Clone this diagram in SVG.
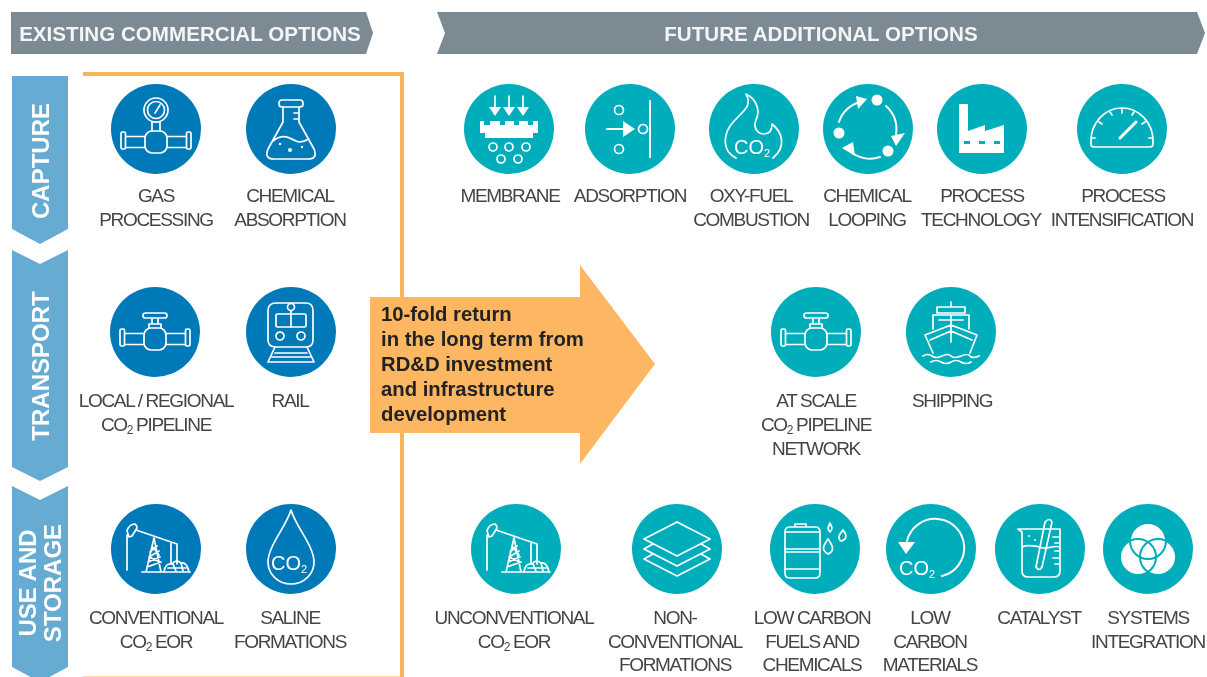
<svg xmlns="http://www.w3.org/2000/svg" width="1207" height="677" viewBox="0 0 1207 677">
<style>
.l{font:19px "Liberation Sans",Arial,sans-serif;letter-spacing:-1.32px;fill:#454545;text-anchor:middle}
.s{font-size:12px}
.h{font:bold 20.6px "Liberation Sans",Arial,sans-serif;fill:#f4f5f6;text-anchor:middle}
.v{font:bold 24px "Liberation Sans",Arial,sans-serif;fill:#fff;text-anchor:middle}
.a{font:bold 20.3px "Liberation Sans",Arial,sans-serif;fill:#222}
.b{fill:#0179b8}.t{fill:#02adba}
.i{fill:none;stroke:#fff;stroke-width:1.7;stroke-linecap:round;stroke-linejoin:round}
.f{fill:#fff;stroke:none}
.c{font:20px "Liberation Sans",Arial,sans-serif;fill:#fff;stroke:none;text-anchor:middle}
.c2{font-size:11px}
</style>
<defs>
<filter id="soft" x="0" y="0" width="100%" height="100%" filterUnits="objectBoundingBox"><feGaussianBlur stdDeviation="0.45"/></filter>
<g id="pipe"><rect x="-35" y="-3" width="4.5" height="17" rx="1.5"/><rect x="30.5" y="-3" width="4.5" height="17" rx="1.5"/><path d="M-30 1.5H-11M-30 12.5H-11M11 1.5H30M11 12.5H30"/><rect x="-11" y="-4" width="22" height="22" rx="7"/></g>
<g id="valve" class="i"><use href="#pipe"/><path d="M-6 -4V-8H6V-4M-3 -8V-13M3 -8V-13"/><rect x="-12" y="-19" width="24" height="5" rx="2.5"/></g>
<g id="gauge-valve" class="i"><use href="#pipe" y="6"/><circle cx="0" cy="-19" r="12"/><circle cx="0" cy="-19" r="8.5"/><path d="M-1 -16L4 -24M-4 -7H4V2M-4 -7V2"/></g>
<g id="flask" class="i"><rect x="-12" y="-29" width="24" height="7" rx="3"/><path d="M-8 -22V-7L-23 20Q-27 30 -17 30H17Q27 30 23 20L8 -7V-22M-18 12C-8 4 -2 9 5 12C11 15 15 11 18 10M3 -16H8M3 -10H8"/><circle class="f" cx="-1" cy="21" r="2"/><circle class="f" cx="-11" cy="15" r="1.2"/><circle class="f" cx="11" cy="18" r="1.2"/></g>
<g id="train" class="i"><path d="M-23 -21Q-23 -29 -15 -29H15Q22 -29 22 -21V8Q22 15 15 15H-15Q-23 15 -23 8Z"/><rect x="-15" y="-18" width="30" height="13" rx="1.5"/><path d="M0 -18V-5M0 -21V-18"/><circle cx="0" cy="-25" r="3.5"/><circle cx="-11" cy="4" r="4"/><circle cx="10" cy="4" r="4"/><path d="M-16 21H16M-19 25H19M-23 30H23M-16 15L-23 30M16 15L23 30"/></g>
<g id="pump" class="i"><path d="M-29 21V-14M-27 -12L-29 -18Q-27 -25 -21 -25Q-19 -24 -19 -21L-24 -13ZM-20 -19L21 -5M21 -5V15M15 -7V15M-2 -11L-10 23M-2 -11L5 23M-7 8L3 2M-8 13L4 8M-9 18L5 13M-6 3L1 -3M-4 -3L3 6M-7 8L4 13M-14 23H34"/><path d="M8 23Q9 14 16 15Q20 10 25 14Q31 13 33 23M12 19H30M17 15L20 22M25 14L27 22"/></g>
<g id="drop" class="i"><path d="M0 -39C-5 -22 -23 -3 -23 13A23 22 0 0 0 23 13C23 -3 5 -22 0 -39Z"/><text class="c" x="-2" y="21">CO<tspan class="c2" dy="3">2</tspan></text></g>
<g id="membrane" class="i"><path d="M-14 -33V-20M0 -33V-20M14 -33V-20"/><path class="f" d="M-20 -22H-8L-14 -13ZM-6 -22H6L0 -13ZM8 -22H20L14 -13Z"/><path class="f" d="M-29 -8H-25V-4H-19V-8H-9V-4H-4V-8H5V-4H10V-8H19V-4H24V-8H29V4H24V9H-24V4H-29Z"/><path stroke="#02adba" stroke-width="0" fill="none" d="M0 0"/><circle cx="-16" cy="18" r="4"/><circle cx="0" cy="18" r="4"/><circle cx="17" cy="18" r="4"/><circle cx="-8" cy="30" r="4"/><circle cx="9" cy="30" r="4"/></g>
<g id="adsorb" class="i"><path d="M20 -28V28M-23 0H-5" stroke-width="2"/><path class="f" d="M-7 -8L5 0L-7 8Z"/><circle cx="-11" cy="-19" r="4.5"/><circle cx="-11" cy="20" r="4.5"/><circle cx="13" cy="0" r="4.5"/></g>
<g id="flame" class="i"><path d="M-18 29C-32 22 -32 5 -20 -8C-8 -20 -2 -24 -8 -35C4 -29 6 -17 2 -9C-1 -2 3 5 10 5C17 5 18 -1 18 -5C28 3 33 17 19 29"/><text class="c" x="-2" y="25">CO<tspan class="c2" dy="3">2</tspan></text></g>
<g id="loop" class="i"><g stroke-width="2"><path d="M-29 -7A30 30 0 0 1 -8 -27"/><path d="M18 -23A30 30 0 0 1 28 5"/><path d="M12 28A30 30 0 0 1 -18 22"/></g><path class="f" d="M-12 -33L-1 -30L-10 -20ZM23 7L37 4L28 17ZM-15 13L-13 27L-26 19Z"/><circle class="f" cx="9" cy="-29" r="5.5"/><circle class="f" cx="-29" cy="4" r="5.5"/><circle class="f" cx="20" cy="22" r="5.5"/></g>
<g id="factory"><path class="f" d="M-23 -25H-14V2L3 -4V2L22 -4V24H-23Z"/><path fill="#02adba" d="M-18 12H-12V15H-18ZM-3 12H3V15H-3ZM12 12H18V15H12Z"/></g>
<g id="speed" class="i"><path d="M-31 12A31 33 0 0 1 31 12V15Q31 18 28 18H-28Q-31 18 -31 15Z"/><path d="M-27 9H-31M27 9H31M-23 -7L-20 -5M23 -7L20 -5M-12 -17L-10 -14M12 -17L10 -14M0 -20V-16"/><path d="M-2 9L14 -7" stroke-width="3"/></g>
<g id="ship" class="i"><path d="M0 -30V-25M-14 -19V-25H14V-19M-14 -19H14M-18 -3V-17H18V-3M-12 -12H12M0 -17V-4M0 -7V10M-26 3L0 -7L26 3L19 21M-26 3L-18 21M-21 8L0 -1L21 8M-28 24Q-23 21 -19 24T-9 24T0 24T10 24T19 24T28 24M-20 30Q-15 27 -10 30T0 30T10 30T20 30"/></g>
<g id="layers" class="i"><path d="M0 -27L33 -10L0 7L-33 -10Z"/><path d="M-24 -5L-33 0L0 17L33 0L24 -5"/><path d="M-24 5L-33 10L0 27L33 10L24 5"/></g>
<g id="barrel" class="i"><path d="M-25 -22Q-30 -22 -30 -17V24Q-30 29 -25 29H0Q5 29 5 24V-17Q5 -22 0 -22ZM-30 -17H5M-30 0H5M-30 3H5M-30 20H5M-20 -25H-9V-22H-20Z"/><path d="M15 -26C13 -22 12 -20 15 -17C18 -20 17 -22 15 -26ZM28 -19C24 -14 22 -11 26 -8C31 -9 33 -13 28 -19ZM13 -10C8 -3 6 1 13 5C20 2 18 -3 13 -10Z"/></g>
<g id="co2loop" class="i"><path d="M11 27A29 29 0 1 0 -24 -8" stroke-width="2"/><path class="f" d="M-33 -7H-16L-25 5Z"/><text class="c" x="-14" y="26">CO<tspan class="c2" dy="3">2</tspan></text></g>
<g id="beaker" class="i"><path d="M-22 -20H20V22Q20 28 14 28H-12Q-18 28 -18 22V-17ZM-18 -2C-12 -5 -4 -3 3 -1C8 0 14 -4 20 -2M13 -12H20M15 -6H20M15 2H20M13 9H20M15 15H20"/><path d="M5 -27Q10 -32 12 -27L2 18Q-1 23 -4 18Z"/><circle class="f" cx="-11" cy="-13" r="1"/><circle class="f" cx="-5" cy="-9" r="1"/></g>
<g id="venn"><g fill="#fff"><circle cx="0" cy="-8" r="18"/><circle cx="-10" cy="8" r="18"/><circle cx="10" cy="8" r="18"/></g><g fill="none" stroke="#02adba" stroke-width="2"><circle cx="0" cy="-8" r="18"/><circle cx="-10" cy="8" r="18"/><circle cx="10" cy="8" r="18"/></g></g>
</defs>

<rect x="0" y="0" width="1207" height="677" fill="#fff"/>
<g id="diagram" filter="url(#soft)">
<rect x="0" y="0" width="1207" height="677" fill="#fff"/>
<g id="header-existing"><polygon points="11,12 366,12 373,33 366,54 11,54" fill="#7b8a93"/><text class="h" x="190" y="41">EXISTING COMMERCIAL OPTIONS</text></g>
<g id="header-future"><polygon points="437,12 1197,12 1205,33 1197,54 437,54 445,33" fill="#7b8a93"/><text class="h" x="821" y="41">FUTURE ADDITIONAL OPTIONS</text></g>

<g id="band-capture"><polygon points="12,76 68,76 68,229 40,244 12,229" fill="#66abd1"/><text class="v" transform="translate(49 161) rotate(-90)">CAPTURE</text></g>
<g id="band-transport"><polygon points="12,250 40,264 68,250 68,467 40,481 12,467" fill="#66abd1"/><text class="v" transform="translate(49 366) rotate(-90)">TRANSPORT</text></g>
<g id="band-use"><polygon points="12,486 40,500 68,486 68,667 40,682 12,667" fill="#66abd1"/><text class="v" transform="translate(36 583) rotate(-90)">USE AND</text><text class="v" transform="translate(61 583) rotate(-90)">STORAGE</text></g>

<path id="frame" d="M83 74H402V678.5H83" fill="none" stroke="#fbb45c" stroke-width="4"/>

<g id="arrow"><polygon points="370,297 580,297 580,265 655,364 580,464 580,433 370,433" fill="#fdb762"/>
<text class="a" x="381" y="321">10-fold return</text><text class="a" x="381" y="346">in the long term from</text><text class="a" x="381" y="371">RD&amp;D investment</text><text class="a" x="381" y="396">and infrastructure</text><text class="a" x="381" y="421">development</text></g>

<g id="gas-processing"><circle class="b" cx="156" cy="129" r="45"/><use href="#gauge-valve" x="156" y="129"/><text class="l" x="156" y="202">GAS</text><text class="l" x="156" y="226">PROCESSING</text></g>
<g id="chemical-absorption"><circle class="b" cx="291" cy="129" r="45"/><use href="#flask" x="291" y="129"/><text class="l" x="290" y="202">CHEMICAL</text><text class="l" x="290" y="226">ABSORPTION</text></g>
<g id="local-pipeline"><circle class="b" cx="155" cy="332" r="45"/><use href="#valve" x="155" y="332"/><text class="l" x="156" y="407">LOCAL / REGIONAL</text><text class="l" x="156" y="431">CO<tspan class="s" dy="3">2</tspan><tspan dy="-3"> PIPELINE</tspan></text></g>
<g id="rail"><circle class="b" cx="291" cy="332" r="45"/><use href="#train" x="291" y="332"/><text class="l" x="290" y="407">RAIL</text></g>
<g id="conventional-eor"><circle class="b" cx="156" cy="549" r="45"/><use href="#pump" x="156" y="549"/><text class="l" x="156" y="624">CONVENTIONAL</text><text class="l" x="156" y="648">CO<tspan class="s" dy="3">2</tspan><tspan dy="-3"> EOR</tspan></text></g>
<g id="saline"><circle class="b" cx="291" cy="549" r="45"/><use href="#drop" x="291" y="549"/><text class="l" x="290" y="624">SALINE</text><text class="l" x="290" y="648">FORMATIONS</text></g>

<g id="membrane-node"><circle class="t" cx="509" cy="129" r="45"/><use href="#membrane" x="509" y="129"/><text class="l" x="510" y="202">MEMBRANE</text></g>
<g id="adsorption"><circle class="t" cx="630" cy="129" r="45"/><use href="#adsorb" x="630" y="129"/><text class="l" x="630" y="202">ADSORPTION</text></g>
<g id="oxy-fuel"><circle class="t" cx="754" cy="129" r="45"/><use href="#flame" x="754" y="129"/><text class="l" x="751" y="202">OXY-FUEL</text><text class="l" x="751" y="226">COMBUSTION</text></g>
<g id="chemical-looping"><circle class="t" cx="868" cy="129" r="45"/><use href="#loop" x="868" y="129"/><text class="l" x="867" y="202">CHEMICAL</text><text class="l" x="867" y="226">LOOPING</text></g>
<g id="process-technology"><circle class="t" cx="982" cy="129" r="45"/><use href="#factory" x="982" y="129"/><text class="l" x="982" y="202">PROCESS</text><text class="l" x="981" y="226">TECHNOLOGY</text></g>
<g id="process-intensification"><circle class="t" cx="1122" cy="129" r="45"/><use href="#speed" x="1122" y="129"/><text class="l" x="1123" y="202">PROCESS</text><text class="l" x="1122" y="226">INTENSIFICATION</text></g>

<g id="at-scale-pipeline"><circle class="t" cx="816" cy="332" r="45"/><use href="#valve" x="816" y="332"/><text class="l" x="816" y="407">AT SCALE</text><text class="l" x="816" y="431">CO<tspan class="s" dy="3">2</tspan><tspan dy="-3"> PIPELINE</tspan></text><text class="l" x="816" y="455">NETWORK</text></g>
<g id="shipping"><circle class="t" cx="951" cy="332" r="45"/><use href="#ship" x="951" y="332"/><text class="l" x="952" y="407">SHIPPING</text></g>

<g id="unconventional-eor"><circle class="t" cx="516" cy="549" r="45"/><use href="#pump" x="516" y="549"/><text class="l" x="514" y="624">UNCONVENTIONAL</text><text class="l" x="514" y="648">CO<tspan class="s" dy="3">2</tspan><tspan dy="-3"> EOR</tspan></text></g>
<g id="non-conventional"><circle class="t" cx="677" cy="549" r="45"/><use href="#layers" x="677" y="549"/><text class="l" x="675" y="624">NON-</text><text class="l" x="675" y="648">CONVENTIONAL</text><text class="l" x="675" y="671">FORMATIONS</text></g>
<g id="low-carbon-fuels"><circle class="t" cx="815" cy="549" r="45"/><use href="#barrel" x="815" y="549"/><text class="l" x="812" y="624">LOW CARBON</text><text class="l" x="812" y="648">FUELS AND</text><text class="l" x="812" y="671">CHEMICALS</text></g>
<g id="low-carbon-materials"><circle class="t" cx="931" cy="549" r="45"/><use href="#co2loop" x="931" y="549"/><text class="l" x="930" y="624">LOW</text><text class="l" x="930" y="648">CARBON</text><text class="l" x="930" y="671">MATERIALS</text></g>
<g id="catalyst"><circle class="t" cx="1040" cy="549" r="45"/><use href="#beaker" x="1040" y="549"/><text class="l" x="1039" y="624">CATALYST</text></g>
<g id="systems-integration"><circle class="t" cx="1148" cy="549" r="45"/><use href="#venn" x="1148" y="549"/><text class="l" x="1148" y="624">SYSTEMS</text><text class="l" x="1148" y="648">INTEGRATION</text></g>
<g id="connectors"/>
</g>
</svg>
